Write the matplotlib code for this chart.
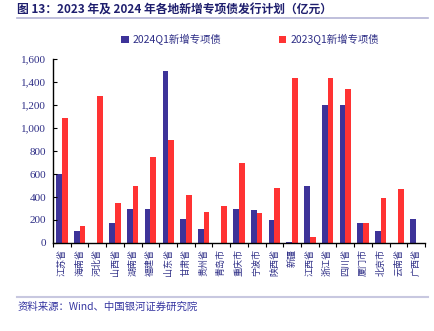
import matplotlib
matplotlib.use("Agg")
import matplotlib.pyplot as plt
import numpy as np
from matplotlib.lines import Line2D

categories = ["江苏省", "海南省", "河北省", "山西省", "湖南省", "福建省", "山东省", "甘肃省",
              "贵州省", "青岛市", "重庆市", "宁波市", "陕西省", "新疆", "江西省", "浙江省",
              "四川省", "厦门市", "北京市", "云南省", "广西省"]
q1_2024 = [600, 100, 0, 175, 300, 300, 1500, 210, 120, 0, 300, 290, 200, 5, 500, 1200,
           1200, 175, 100, 0, 205]
q1_2023 = [1085, 150, 1280, 350, 500, 750, 900, 420, 270, 320, 700, 265, 480, 1440, 55, 1440,
           1340, 175, 395, 470, 0]
series_names = ["2024Q1新增专项债", "2023Q1新增专项债"]
yticks = [0, 200, 400, 600, 800, 1000, 1200, 1400, 1600]

CJK = ["Noto Sans CJK SC", "DejaVu Sans"]
SERIF = ["Liberation Serif", "Noto Sans CJK SC"]
plt.rcParams['font.family'] = CJK

blue = "#3D3399"
red = "#FF3333"
txt = "#2E2E86"

fig = plt.figure(figsize=(4.35, 3.31), dpi=100)
ax = fig.add_axes([0.122, 0.266, 0.855, 0.555])

x = np.arange(len(categories))
w = 0.32
ax.bar(x - w / 2, q1_2024, width=w, color=blue, label=series_names[0])
ax.bar(x + w / 2, q1_2023, width=w, color=red, label=series_names[1])

ax.set_xlim(-0.5, len(categories) - 0.5)
ax.set_ylim(0, 1600)
ax.set_yticks(yticks)
ax.set_yticklabels([f"{v:,}" for v in yticks], family=SERIF, fontsize=8, color=txt)
ax.tick_params(axis='y', direction='in', length=3, width=0.8, pad=5)
ax.set_xticks(x)
ax.set_xticklabels(categories, rotation=90, fontsize=6.5, color=txt, va='top')
ax.tick_params(axis='x', which='major', length=0, pad=4)
ax.set_xticks(np.arange(-0.5, len(categories), 1), minor=True)
ax.tick_params(axis='x', which='minor', direction='out', length=3, width=0.8)
for s in ["top", "right"]:
    ax.spines[s].set_visible(False)
for s in ["left", "bottom"]:
    ax.spines[s].set_linewidth(1.0)
    ax.spines[s].set_color("black")

leg = ax.legend(loc='center', bbox_to_anchor=(0.53, 1.105), ncol=2, frameon=False,
                fontsize=7.5, handlelength=0.7, handleheight=0.7, columnspacing=5.5,
                handletextpad=0.4)
for t in leg.get_texts():
    t.set_color(txt)

fig.text(0.04, 0.968, "图 13：2023 年及 2024 年各地新增专项债发行计划（亿元）",
         fontsize=8.5, fontweight='bold', color="#1F1F6E", va='center', ha='left')
fig.add_artist(Line2D([0.04, 0.985], [0.945, 0.945], color="#B4B4D6", lw=1.2))
fig.add_artist(Line2D([0.04, 0.985], [0.103, 0.103], color="#C8C8E0", lw=1.5))
fig.text(0.04, 0.072, "资料来源：Wind、中国银河证券研究院", fontsize=7.5, style='italic',
         color="#3535A0", va='center', ha='left')

fig.savefig("out.png", dpi=100)
